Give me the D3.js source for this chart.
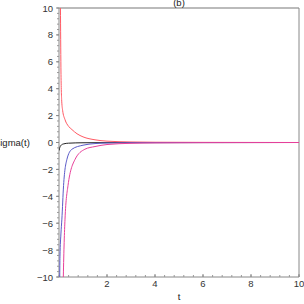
<!DOCTYPE html>
<html><head><meta charset="utf-8">
<script src="https://cdn.jsdelivr.net/npm/d3@7"></script>
<style>body{margin:0;background:#fff}svg{display:block}text{font-family:"Liberation Sans",Arial,sans-serif}</style>
</head><body>
<script>
const yTicks = [-10,-8,-6,-4,-2,0,2,4,6,8,10];
const xTicks = [2,4,6,8,10];
const redT = [0.045,0.06,0.08,0.11,0.15,0.25,0.4,0.54,0.75,1.0,1.5,2,3,4,6,10];
const redS = [13,10,5.6,3.2,2.4,1.7,1.2,0.96,0.65,0.42,0.2,0.1,0.04,0.02,0.01,0];
const blueT = [0.02,0.04,0.08,0.12,0.19,0.33,0.54,1.0,1.5,2,3,5,10];
const blueS = [-13,-8.5,-6.8,-5.7,-3.2,-1.25,-0.5,-0.2,-0.08,-0.04,-0.015,-0.005,0];
const magT = [0.15,0.18,0.25,0.375,0.67,1.08,1.5,2,3,4,6,10];
const magS = [-13,-10,-5.7,-3.2,-1.25,-0.5,-0.3,-0.15,-0.06,-0.03,-0.01,0];
const blkT = [0,0.02,0.05,0.1,0.2,0.4,1,2,10];
const blkS = [-0.6,-0.45,-0.3,-0.18,-0.1,-0.05,-0.02,-0.01,0];

const W=304,H=304;
const svg=d3.select("body").append("svg").attr("width",W).attr("height",H);
const x=d3.scaleLinear().domain([0,10]).range([59,299]);
const y=d3.scaleLinear().domain([-10,10]).range([277,8]);

svg.append("clipPath").attr("id","c").append("rect")
  .attr("x",59).attr("y",8).attr("width",240).attr("height",269);

// frame
svg.append("line").attr("x1",59).attr("x2",299).attr("y1",8).attr("y2",8).attr("stroke","#bbb").attr("stroke-width",2);
svg.append("line").attr("x1",299).attr("x2",299).attr("y1",8).attr("y2",277).attr("stroke","#888").attr("stroke-width",1);

// y axis
const ya=svg.append("g").attr("transform","translate(59,0)");
ya.append("line").attr("y1",8).attr("y2",277).attr("stroke","#888");
const yMinor=d3.range(-10,10.001,0.4);
ya.selectAll(".ym").data(yMinor).enter().append("line")
  .attr("x1",-2).attr("x2",0).attr("y1",d=>y(d)).attr("y2",d=>y(d)).attr("stroke","#999");
ya.selectAll(".yM").data(yTicks).enter().append("line")
  .attr("x1",-3).attr("x2",0).attr("y1",d=>y(d)).attr("y2",d=>y(d)).attr("stroke","#888");
ya.selectAll("text").data(yTicks).enter().append("text")
  .attr("x",-6).attr("y",d=>y(d)+3.5).attr("text-anchor","end").attr("font-size",9.5).attr("fill","#333")
  .text(d=>d<0?"\u2212"+(-d):d);

// x axis
const xa=svg.append("g").attr("transform","translate(0,277)");
xa.append("line").attr("x1",59).attr("x2",299).attr("stroke","#888");
const xMinor=d3.range(0,10.001,0.4);
xa.selectAll(".xm").data(xMinor).enter().append("line")
  .attr("x1",d=>x(d)).attr("x2",d=>x(d)).attr("y1",-2).attr("y2",0).attr("stroke","#999");
xa.selectAll(".xM").data(xTicks).enter().append("line")
  .attr("x1",d=>x(d)).attr("x2",d=>x(d)).attr("y1",-3).attr("y2",0).attr("stroke","#888");
xa.selectAll("text").data(xTicks).enter().append("text")
  .attr("x",d=>x(d)).attr("y",10).attr("text-anchor","middle").attr("font-size",9.5).attr("fill","#333").text(d=>d);

// curves
const line=d3.line().x(d=>x(d[0])).y(d=>y(d[1])).curve(d3.curveMonotoneX);
const series=[[blkT,blkS,"#222"],[redT,redS,"#ff5a64"],[blueT,blueS,"#5a5ac8"],[magT,magS,"#e8409a"]];
const g=svg.append("g").attr("clip-path","url(#c)");
series.forEach(([t,s,c])=>{
  g.append("path").datum(t.map((v,i)=>[v,s[i]])).attr("d",line).attr("fill","none").attr("stroke",c).attr("stroke-width",1);
});

// labels
svg.append("text").attr("x",-4.5).attr("y",146).attr("font-size",9.5).attr("fill","#222").text("sigma(t)");
svg.append("text").attr("x",179).attr("y",300).attr("text-anchor","middle").attr("font-size",9.5).attr("fill","#222").text("t");
svg.append("text").attr("x",179).attr("y",6).attr("text-anchor","middle").attr("font-size",9.5).attr("fill","#222").text("(b)");
</script>
</body></html>
